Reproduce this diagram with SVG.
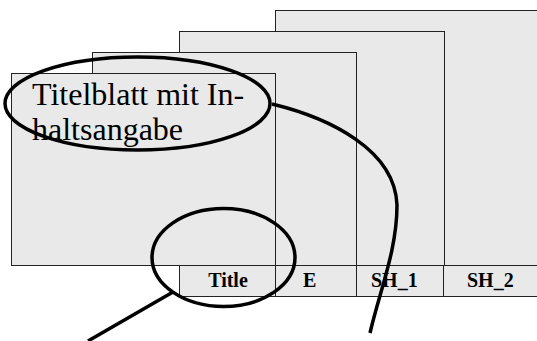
<svg xmlns="http://www.w3.org/2000/svg" width="537" height="341" viewBox="0 0 537 341">
<style>
.pg{fill:#e9e9e9;stroke:#222;stroke-width:1}
.big{font-family:"Liberation Serif","Times New Roman",serif;font-size:32px;fill:#000}
.tab{font-family:"Liberation Serif","Times New Roman",serif;font-size:20px;font-weight:bold;fill:#000}
.ann{fill:none;stroke:#000;stroke-width:3.5}
</style>
<rect width="537" height="341" fill="#fff"/>
<g id="page4">
<rect class="pg" x="275.5" y="10.5" width="263" height="255"/>
<rect class="pg" x="443.5" y="265.5" width="95" height="31"/>
<text class="tab" x="467" y="287">SH_2</text>
</g>
<g id="page3">
<rect class="pg" x="179.5" y="31.5" width="265" height="234"/>
<rect class="pg" x="356.5" y="265.5" width="87" height="31"/>
<text class="tab" x="371" y="287">SH_1</text>
</g>
<g id="page2">
<rect class="pg" x="92.5" y="52.5" width="264" height="213"/>
<rect class="pg" x="275.5" y="265.5" width="81" height="31"/>
<text class="tab" x="303" y="287">E</text>
</g>
<g id="page1">
<rect class="pg" x="11.5" y="73.5" width="264" height="192"/>
<rect class="pg" x="179.5" y="265.5" width="96" height="31"/>
<text class="big" x="32" y="105">Titelblatt mit In-</text>
<text class="big" x="32" y="140">haltsangabe</text>
<text class="tab" x="228" y="287" text-anchor="middle">Title</text>
</g>
<g id="connectors">
<ellipse class="ann" cx="137.5" cy="103.5" rx="132.5" ry="46.5"/>
<ellipse class="ann" cx="223.5" cy="257.5" rx="71.5" ry="49"/>
<path class="ann" d="M272,104 C330,118 395,150 397,205 C397,250 380,290 370,333"/>
<path class="ann" d="M173,292 L88,341"/>
</g>
</svg>
